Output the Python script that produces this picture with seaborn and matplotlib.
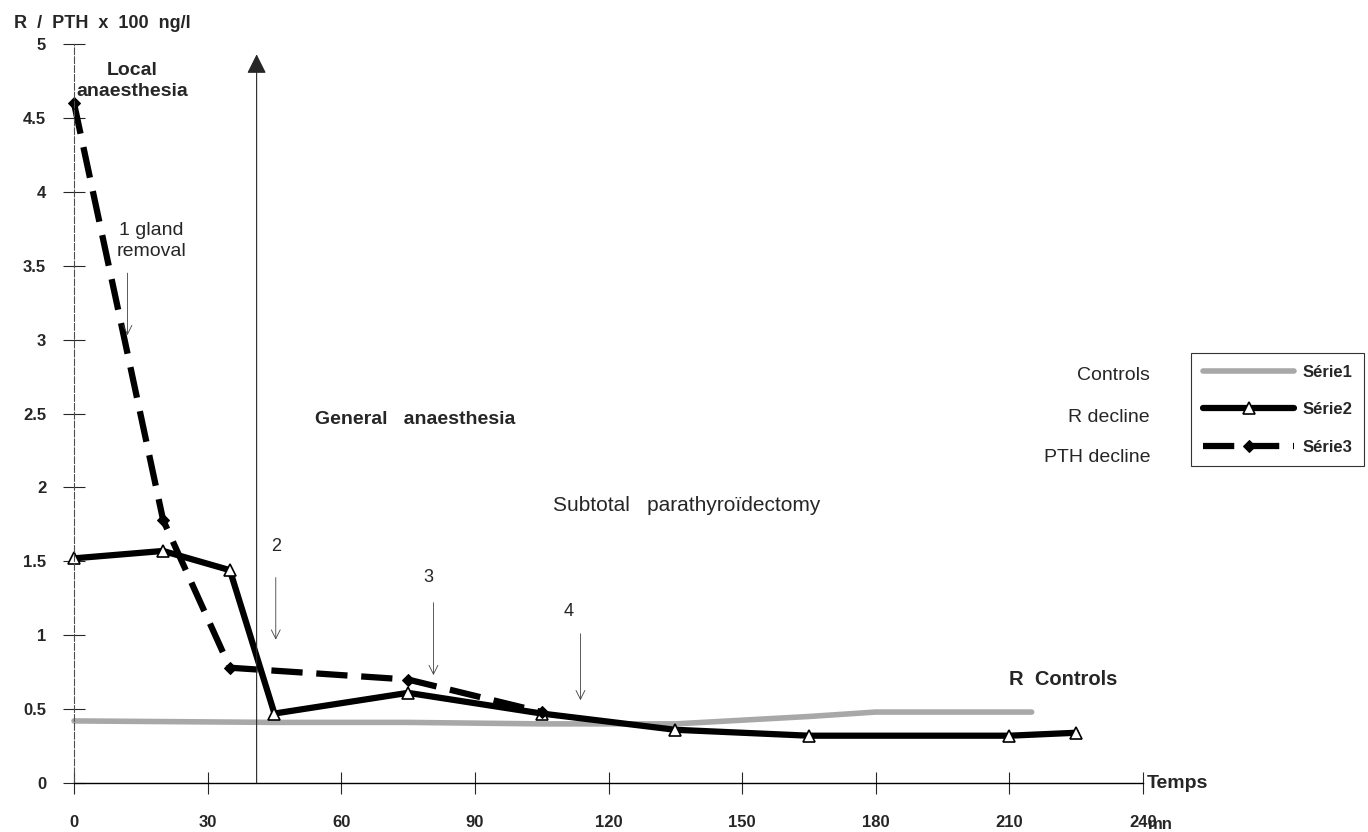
import matplotlib
matplotlib.use('Agg')
import matplotlib.pyplot as plt
import seaborn as sns
import pandas as pd

# Série1 : controls
t_controls = [0, 45, 75, 105, 135, 165, 180, 215]
r_controls = [0.42, 0.41, 0.41, 0.40, 0.40, 0.45, 0.48, 0.48]

# Série2 : R decline
t_r = [0, 20, 35, 45, 75, 105, 135, 165, 210, 225]
r_decline = [1.52, 1.57, 1.44, 0.47, 0.61, 0.47, 0.36, 0.32, 0.32, 0.34]

# Série3 : PTH decline
t_pth = [0, 20, 35, 75, 105]
pth_decline = [4.6, 1.78, 0.78, 0.70, 0.48]

series_names = ['Série1', 'Série2', 'Série3']
series_desc = ['Controls', 'R decline', 'PTH decline']

x_ticks = [0, 30, 60, 90, 120, 150, 180, 210, 240]
y_ticks = [0, 0.5, 1, 1.5, 2, 2.5, 3, 3.5, 4, 4.5, 5]
y_ticklabels = ['0', '0.5', '1', '1.5', '2', '2.5', '3', '3.5', '4', '4.5', '5']

sns.set_theme(style='white')
plt.rcParams['font.family'] = ['Liberation Sans', 'DejaVu Sans']

W, H = 1368, 832
fig = plt.figure(figsize=(W / 100, H / 100), dpi=100)
ax = fig.add_axes([74 / W, 49 / H, 1069 / W, 739 / H])

sns.lineplot(x=t_controls, y=r_controls, ax=ax, color='#a8a8a8', lw=4,
             label=series_names[0], clip_on=False)
sns.lineplot(x=t_r, y=r_decline, ax=ax, color='black', lw=4.5, marker='^',
             markersize=9, markerfacecolor='white', markeredgecolor='black',
             markeredgewidth=1.2, label=series_names[1], clip_on=False)
sns.lineplot(x=t_pth, y=pth_decline, ax=ax, color='black', lw=4.5,
             linestyle=(0, (5, 2.2)), marker='D', markersize=6,
             markeredgecolor='black', label=series_names[2], clip_on=False)

ax.set_xlim(0, 240)
ax.set_ylim(0, 5)
ax.set_xticks(x_ticks)
ax.set_yticks(y_ticks)
ax.set_yticklabels(y_ticklabels)
ax.tick_params(axis='x', direction='inout', length=16, width=0.8, pad=15,
               labelsize=12, bottom=True)
ax.tick_params(axis='y', direction='inout', length=16, width=0.8, pad=12,
               labelsize=12, left=True)
for lab in ax.get_xticklabels() + ax.get_yticklabels():
    lab.set_fontweight('bold')
for s in ['top', 'right']:
    ax.spines[s].set_visible(False)
ax.spines['left'].set_linestyle((0, (6, 2)))
ax.spines['left'].set_linewidth(0.8)
ax.spines['left'].set_color('0.3')
ax.spines['bottom'].set_linewidth(1.0)
ax.spines['bottom'].set_color('black')
ax.set_xlabel('')
ax.set_ylabel('')

# general anaesthesia marker
ax.annotate('', xy=(41, 4.93), xytext=(41, 0),
            arrowprops=dict(arrowstyle='-|>', color='0.15', lw=0.8,
                            mutation_scale=30, shrinkA=0, shrinkB=0))

# small arrows: x, top, tip
small_arrows = [(12, 3.45, 3.03), (45.3, 1.39, 0.97), (80.7, 1.22, 0.73),
                (113.7, 1.01, 0.56)]
for x, top, tip in small_arrows:
    ax.annotate('', xy=(x, tip), xytext=(x, top),
                arrowprops=dict(arrowstyle='->', color='0.25', lw=0.6,
                                mutation_scale=16, shrinkA=0, shrinkB=0))

ax.text(17.3, 3.67, '1 gland\nremoval', ha='center', va='center', fontsize=14,
        linespacing=1.3)
ax.text(45.4, 1.60, '2', ha='center', va='center', fontsize=13)
ax.text(79.5, 1.39, '3', ha='center', va='center', fontsize=13)
ax.text(111, 1.16, '4', ha='center', va='center', fontsize=13)
ax.text(13, 4.75, 'Local\nanaesthesia', ha='center', va='center',
        fontsize=14, fontweight='bold', linespacing=1.35)
ax.text(54, 2.46, 'General   anaesthesia', ha='left', va='center',
        fontsize=14, fontweight='bold')
ax.text(107.5, 1.88, 'Subtotal   parathyroïdectomy', ha='left', va='center',
        fontsize=15)
ax.text(222, 0.70, 'R  Controls', ha='center', va='center', fontsize=14.5,
        fontweight='bold')
ax.text(240.8, 0, 'Temps', ha='left', va='center', fontsize=14,
        fontweight='bold', clip_on=False)
ax.text(241.2, -0.28, 'mn', ha='left', va='center', fontsize=12,
        fontweight='bold', clip_on=False)

fig.text(14 / W, 1 - 23 / H, 'R  /  PTH  x  100  ng/l', ha='left',
         va='center', fontsize=13, fontweight='bold')

leg = ax.legend(loc='upper left', bbox_to_anchor=(1191 / W, 1 - 353 / H),
                bbox_transform=fig.transFigure, frameon=True, fancybox=False,
                edgecolor='black', handlelength=5.5, handletextpad=0.5,
                labelspacing=1.35, prop={'weight': 'bold', 'size': 12},
                borderpad=0.7, borderaxespad=0)
leg.get_frame().set_linewidth(0.8)

desc_y = [376, 418, 457]
for txt, yy in zip(series_desc, desc_y):
    fig.text(1150 / W, 1 - yy / H, txt, ha='right', va='center', fontsize=14)

fig.savefig('out.png', dpi=100)
